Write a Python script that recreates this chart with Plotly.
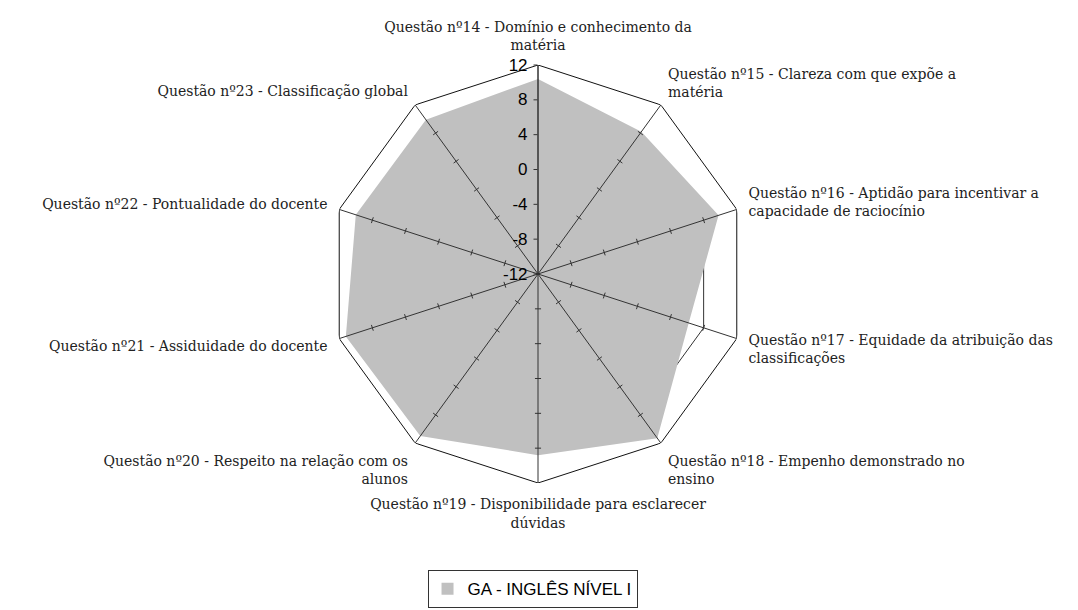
import math
import plotly.graph_objects as go

# Survey questions (angular categories) and their scores
categories = [
    "Questão nº14 - Domínio e conhecimento da<br>matéria",
    "Questão nº15 - Clareza com que expõe a<br>matéria",
    "Questão nº16 - Aptidão para incentivar a<br>capacidade de raciocínio",
    "Questão nº17 - Equidade da atribuição das<br>classificações",
    "Questão nº18 - Empenho demonstrado no<br>ensino",
    "Questão nº19 - Disponibilidade para esclarecer<br>dúvidas",
    "Questão nº20 - Respeito na relação com os<br>alunos",
    "Questão nº21 - Assiduidade do docente",
    "Questão nº22 - Pontualidade do docente",
    "Questão nº23 - Classificação global",
]
scores = [10.4, 8.2, 9.8, 6.2, 11.3, 8.8, 11.0, 11.2, 10.0, 9.9]
series_name = "GA - INGLÊS NÍVEL I"

radial_ticks = [-12, -8, -4, 0, 4, 8, 12]
spoke_ticks = [-8, -4, 0, 4, 8]
r_min, r_max = -12, 12

line_col = "#333333"
fill_col = "#C0C0C0"

n = len(categories)
angles = [i * 360.0 / n for i in range(n)]  # one spoke per question
closed = angles + [angles[0]]


def ring(level):
    """Closed polygon through every spoke at a given radial value."""
    return [level] * (n + 1), closed


fig = go.Figure()

# Inner polygonal grid rings (the series fill sits on top of them)
for lv in spoke_ticks:
    rr, tt = ring(lv)
    fig.add_trace(go.Scatterpolar(
        r=rr, theta=tt, mode="lines",
        line=dict(color=line_col, width=1),
        showlegend=False, hoverinfo="skip",
    ))

# Filled series polygon
fig.add_trace(go.Scatterpolar(
    r=scores + [scores[0]],
    theta=closed,
    mode="lines",
    fill="toself",
    fillcolor=fill_col,
    line=dict(color=fill_col, width=0),
    name=series_name,
    legendgroup="ga",
    showlegend=False,
    hoverinfo="r",
))

# Square legend swatch for the series
fig.add_trace(go.Scatterpolar(
    r=[None], theta=[0], mode="markers",
    marker=dict(symbol="square", size=12, color=fill_col),
    name=series_name, legendgroup="ga", showlegend=True, hoverinfo="skip",
))

# Outer ring at the top of the scale
rr, tt = ring(r_max)
fig.add_trace(go.Scatterpolar(
    r=rr, theta=tt, mode="lines",
    line=dict(color="#111111", width=1),
    showlegend=False, hoverinfo="skip",
))

# Spokes drawn over the fill
spoke_r, spoke_t = [], []
for a in angles:
    spoke_r += [r_min, r_max, None]
    spoke_t += [a, a, None]
fig.add_trace(go.Scatterpolar(
    r=spoke_r, theta=spoke_t, mode="lines",
    line=dict(color=line_col, width=1),
    showlegend=False, hoverinfo="skip",
))

# Short cross ticks on every spoke except the top one (the radial axis has its own)
half = 0.35  # half-length of a tick, in radial units
tick_r, tick_t = [], []
for a in angles[1:]:
    for v in spoke_ticks:
        rho = v - r_min
        rr_t = r_min + math.hypot(rho, half)
        da = math.degrees(math.atan2(half, rho))
        tick_r += [rr_t, rr_t, None]
        tick_t += [a - da, a + da, None]
fig.add_trace(go.Scatterpolar(
    r=tick_r, theta=tick_t, mode="lines",
    line=dict(color=line_col, width=1),
    showlegend=False, hoverinfo="skip",
))

fig.update_layout(
    width=1078, height=610,
    margin=dict(l=0, r=0, t=0, b=0),
    paper_bgcolor="white",
    plot_bgcolor="white",
    showlegend=True,
    legend=dict(
        orientation="h", x=0.494, xanchor="center", y=0.003, yanchor="bottom",
        bordercolor=line_col, borderwidth=1,
        font=dict(family="Liberation Sans, Arial", size=17, color="black"),
        itemwidth=30,
    ),
    polar=dict(
        domain=dict(x=[(538 - 209) / 1078, (538 + 209) / 1078],
                    y=[(336 - 209) / 610, (336 + 209) / 610]),
        bgcolor="rgba(0,0,0,0)",
        radialaxis=dict(
            range=[r_min, r_max],
            tickvals=radial_ticks,
            ticktext=[str(v) for v in radial_ticks],
            angle=90, side="counterclockwise", tickangle=90,
            ticks="outside", ticklen=4, tickcolor=line_col,
            showline=True, linecolor=line_col, linewidth=1,
            showgrid=False,
            tickfont=dict(family="Liberation Sans, Arial", size=17, color="black"),
            layer="above traces",
        ),
        angularaxis=dict(
            direction="clockwise", rotation=90,
            tickmode="array", tickvals=angles, ticktext=categories,
            showline=False, showgrid=False,
            ticks="outside", ticklen=9, tickcolor="rgba(0,0,0,0)",
            tickfont=dict(family="DejaVu Serif", size=14, color="#222222"),
            layer="above traces",
        ),
    ),
)

fig.write_html("out.html")
